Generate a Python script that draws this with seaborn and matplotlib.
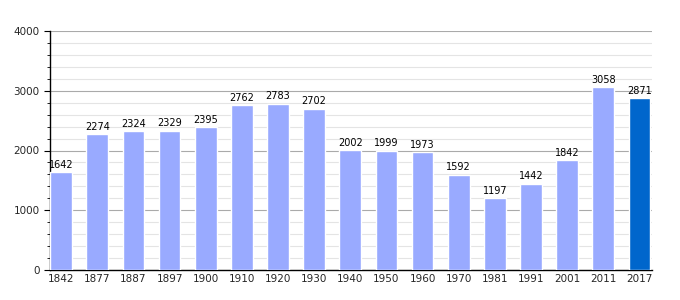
import matplotlib
matplotlib.use("Agg")
import matplotlib.pyplot as plt
import seaborn as sns
import pandas as pd
from matplotlib.ticker import MultipleLocator

years = ["1842", "1877", "1887", "1897", "1900", "1910", "1920", "1930", "1940",
         "1950", "1960", "1970", "1981", "1991", "2001", "2011", "2017"]
population = [1642, 2274, 2324, 2329, 2395, 2762, 2783, 2702, 2002,
              1999, 1973, 1592, 1197, 1442, 1842, 3058, 2871]

df = pd.DataFrame({"year": years, "pop": population})
colors = ["#99aaff"] * (len(years) - 1) + ["#0066cc"]

sns.set_style("white")
plt.rcParams['font.family'] = ['DejaVu Sans']

fig = plt.figure(figsize=(6.8, 3.0), dpi=100)
ax = fig.add_axes([50/680, 1 - 270/300, 602/680, 239/300])

sns.barplot(data=df, x="year", y="pop", hue="year", palette=colors,
            legend=False, width=0.6, saturation=1, ax=ax, zorder=3)

for i, v in enumerate(population):
    ax.text(i, v + 40, str(v), ha="center", va="bottom", fontsize=7, color="black", zorder=4)

ax.set_ylim(0, 4000)
ax.set_xlim(-0.31, 16.35)
ax.yaxis.set_major_locator(MultipleLocator(1000))
ax.yaxis.set_minor_locator(MultipleLocator(200))
ax.grid(which="major", axis="y", color="#aaaaaa", linewidth=0.8, zorder=0)
ax.grid(which="minor", axis="y", color="#e4e4e4", linewidth=0.8, zorder=0)
ax.set_axisbelow(True)
ax.set_xlabel("")
ax.set_ylabel("")
for s in ["top", "right"]:
    ax.spines[s].set_visible(False)
for s in ["left", "bottom"]:
    ax.spines[s].set_color("black")
    ax.spines[s].set_linewidth(1.0)
ax.tick_params(axis="y", which="major", length=4, width=0.8, direction="out", labelsize=7.5, color="black", left=True)
ax.tick_params(axis="y", which="minor", length=2, width=0.6, direction="out", color="black", left=True)
ax.tick_params(axis="x", length=0, labelsize=7.5, pad=3)

fig.savefig("out.png", dpi=100)
